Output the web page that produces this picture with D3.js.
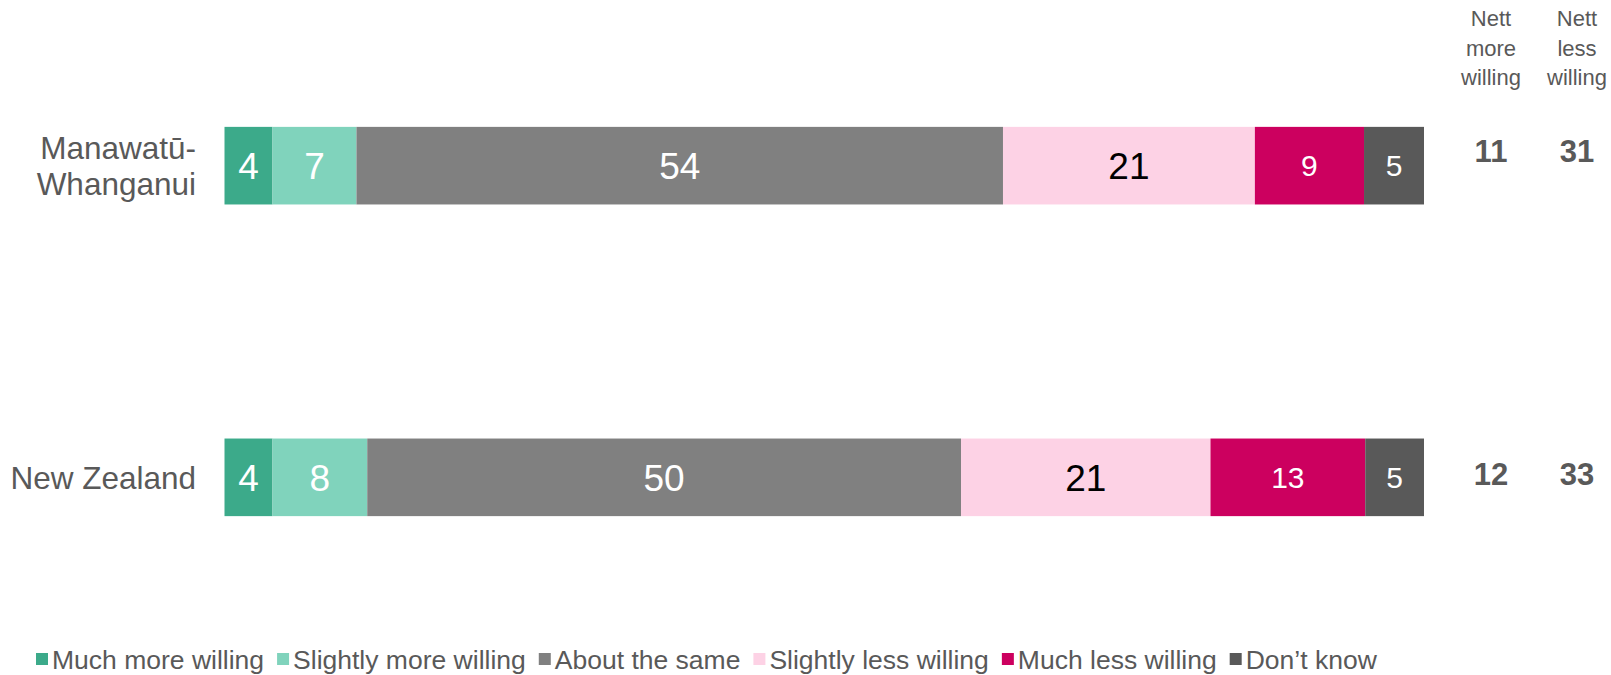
<!DOCTYPE html>
<html>
<head>
<meta charset="utf-8">
<script src="https://cdn.jsdelivr.net/npm/d3@7"></script>
<style>
  html, body { margin: 0; padding: 0; background: #fff; }
  svg { display: block; font-family: "Liberation Sans", Arial, sans-serif; }
</style>
</head>
<body>
<svg id="chart" width="1611" height="675"></svg>
<script>
// ---- data ----
const categories = ["Manawatū-Whanganui", "New Zealand"];
const categoryLines = [["Manawatū-", "Whanganui"], ["New Zealand"]];
const seriesNames = ["Much more willing", "Slightly more willing", "About the same", "Slightly less willing", "Much less willing", "Don’t know"];
const muchMore     = [4.0, 4.0];
const slightlyMore = [7.0, 7.9];
const aboutSame    = [53.9, 49.5];
const slightlyLess = [21.0, 20.8];
const muchLess     = [9.1, 12.9];
const dontKnow     = [5.0, 4.9];
const labelMuchMore     = ["4", "4"];
const labelSlightlyMore = ["7", "8"];
const labelAboutSame    = ["54", "50"];
const labelSlightlyLess = ["21", "21"];
const labelMuchLess     = ["9", "13"];
const labelDontKnow     = ["5", "5"];
const nettMore = ["11", "12"];
const nettLess = ["31", "33"];
const nettHeaders = [["Nett", "more", "willing"], ["Nett", "less", "willing"]];

// ---- styles ----
const colors = ["#3caa8a", "#80d3bc", "#808080", "#fdd2e5", "#cc005f", "#595959"];
const labelColors = ["#ffffff", "#ffffff", "#ffffff", "#000000", "#ffffff", "#ffffff"];
const labelSizes = [37, 37, 37, 37, 30, 30];
const textGrey = "#595959";

const seriesValues = [muchMore, slightlyMore, aboutSame, slightlyLess, muchLess, dontKnow];
const seriesLabels = [labelMuchMore, labelSlightlyMore, labelAboutSame, labelSlightlyLess, labelMuchLess, labelDontKnow];

const svg = d3.select("#chart");

const x = d3.scaleLinear().domain([0, 100]).range([224.5, 1424]);
const y = d3.scaleBand().domain(categories).range([10, 633]).paddingInner(0.751).paddingOuter(0.375);

// build stacked table
const rows = categories.map((c, i) => {
  const r = { category: c };
  seriesNames.forEach((s, j) => { r[s] = seriesValues[j][i]; });
  return r;
});
const stack = d3.stack().keys(seriesNames)(rows);

const layers = svg.append("g").selectAll("g")
  .data(stack).join("g")
  .attr("fill", (d, j) => colors[j]);

layers.selectAll("rect")
  .data(d => d).join("rect")
  .attr("x", d => x(d[0]))
  .attr("width", d => x(d[1]) - x(d[0]))
  .attr("y", d => y(d.data.category))
  .attr("height", y.bandwidth());

// segment labels
stack.forEach((layer, j) => {
  svg.append("g").selectAll("text")
    .data(layer).join("text")
    .attr("x", d => (x(d[0]) + x(d[1])) / 2)
    .attr("y", d => y(d.data.category) + y.bandwidth() / 2)
    .attr("dy", "0.36em")
    .attr("text-anchor", "middle")
    .attr("font-size", labelSizes[j])
    .attr("fill", labelColors[j])
    .text((d, i) => seriesLabels[j][i]);
});

// category labels
categories.forEach((c, i) => {
  const lines = categoryLines[i];
  const lh = 36.7;
  const cy = y(c) + y.bandwidth() / 2;
  const t = svg.append("text")
    .attr("text-anchor", "end")
    .attr("font-size", 31.5)
    .attr("fill", textGrey);
  lines.forEach((ln, k) => {
    t.append("tspan")
      .attr("x", 196)
      .attr("y", cy + (k - (lines.length - 1) / 2) * lh)
      .attr("dy", "0.36em")
      .text(ln);
  });
});

// nett columns
const nettX = [1491, 1577];
const nettDy = [-15, -3];
nettHeaders.forEach((hdr, j) => {
  const t = svg.append("text")
    .attr("text-anchor", "middle")
    .attr("font-size", 22)
    .attr("fill", textGrey);
  hdr.forEach((ln, k) => {
    t.append("tspan").attr("x", nettX[j]).attr("y", 26 + k * 29.7).text(ln);
  });
});
[nettMore, nettLess].forEach((vals, j) => {
  svg.append("g").selectAll("text")
    .data(vals).join("text")
    .attr("x", nettX[j])
    .attr("y", (d, i) => y(categories[i]) + y.bandwidth() / 2 + nettDy[i])
    .attr("dy", "0.36em")
    .attr("text-anchor", "middle")
    .attr("font-size", 31)
    .attr("font-weight", "bold")
    .attr("fill", textGrey)
    .text(d => d);
});

// legend
const legend = svg.append("g");
let lx = 36;
const ly = 659;
seriesNames.forEach((s, j) => {
  legend.append("rect")
    .attr("x", lx).attr("y", ly - 6).attr("width", 12).attr("height", 12)
    .attr("fill", colors[j]);
  const t = legend.append("text")
    .attr("x", lx + 16).attr("y", ly).attr("dy", "0.36em")
    .attr("font-size", 26.5).attr("fill", textGrey)
    .text(s);
  lx += 16 + t.node().getComputedTextLength() + 13;
});
</script>
</body>
</html>
